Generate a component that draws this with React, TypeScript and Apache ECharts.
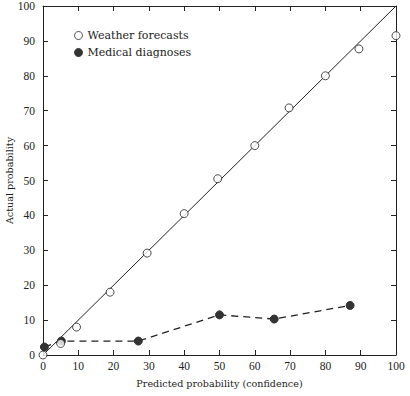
import React, { useEffect, useRef } from "react";
import * as echarts from "echarts";

const xTicks = [0, 10, 20, 30, 40, 50, 60, 70, 80, 90, 100];
const weatherX = [0, 5, 9.5, 19, 29.5, 40, 49.5, 60, 69.7, 80, 89.5, 100];
const weatherY = [0, 3.3, 8, 18, 29.2, 40.5, 50.5, 60, 70.8, 80, 87.7, 91.5];
const medicalX = [0.4, 5.2, 27, 50, 65.5, 87];
const medicalY = [2.3, 4, 4, 11.5, 10.3, 14.2];
const diagonal = [0, 100];

export default function App() {
  const ref = useRef<HTMLDivElement>(null);
  useEffect(() => {
    const chart = echarts.init(ref.current!, undefined, { renderer: "svg" });
    const font = "Liberation Serif";
    const wideFont = "DejaVu Serif";
    const ink = "#222";
    const axisBase = {
      type: "value" as const,
      min: 0,
      max: 100,
      interval: 10,
      splitLine: { show: false },
      axisLine: { show: true, onZero: false, lineStyle: { color: ink, width: 1 } },
      axisTick: { show: true, inside: true, length: 5, lineStyle: { color: ink } },
    };
    chart.setOption({
      animation: false,
      backgroundColor: "#fff",
      textStyle: { fontFamily: font },
      grid: { left: 43, right: 14, top: 6, bottom: 41, containLabel: false, outerBoundsMode: "none" },
      legend: {
        orient: "vertical",
        left: 69,
        top: 25,
        itemGap: 6,
        itemWidth: 8,
        itemHeight: 8,
        itemStyle: { borderWidth: 1 },
        textStyle: { fontFamily: wideFont, fontSize: 11, color: ink },
        data: [
          { name: "Weather forecasts", icon: "circle" },
          { name: "Medical diagnoses", icon: "circle" },
        ],
      },
      xAxis: [
        {
          ...axisBase,
          position: "bottom",
          name: "Predicted probability (confidence)",
          nameLocation: "middle",
          nameGap: 23,
          nameMoveOverlap: false,
          nameTextStyle: { fontFamily: wideFont, fontSize: 9.6, color: ink },
          axisLabel: { color: ink, fontFamily: font, fontSize: 11.5, margin: 5 },
        },
        { ...axisBase, position: "top", axisLabel: { show: false } },
      ],
      yAxis: [
        {
          ...axisBase,
          position: "left",
          name: "Actual probability",
          nameLocation: "middle",
          nameGap: 29,
          nameMoveOverlap: false,
          nameTextStyle: { fontFamily: wideFont, fontSize: 9.6, color: ink },
          axisLabel: { color: ink, fontFamily: font, fontSize: 11.5, margin: 8 },
        },
        { ...axisBase, position: "right", axisLabel: { show: false } },
      ],
      series: [
        {
          type: "line",
          name: "diag",
          data: diagonal.map((v) => [v, v]),
          showSymbol: false,
          symbol: "none",
          lineStyle: { color: ink, width: 1 },
          silent: true,
          z: 1,
        },
        {
          type: "line",
          name: "Medical diagnoses",
          data: medicalX.map((x, i) => [x, medicalY[i]]),
          symbol: "circle",
          symbolSize: 8,
          itemStyle: { color: "#333", borderColor: "#333" },
          lineStyle: { color: ink, width: 1.3, type: [7, 5] },
          z: 3,
        },
        {
          type: "scatter",
          name: "Weather forecasts",
          data: weatherX.map((x, i) => [x, weatherY[i]]),
          symbol: "circle",
          symbolSize: 8,
          itemStyle: { color: "#fff", borderColor: ink, borderWidth: 1 },
          z: 4,
        },
      ],
    });
    return () => chart.dispose();
  }, []);
  return (
    <div
      ref={ref}
      style={{ position: "fixed", left: 0, top: 0, width: 410, height: 396 }}
    />
  );
}
